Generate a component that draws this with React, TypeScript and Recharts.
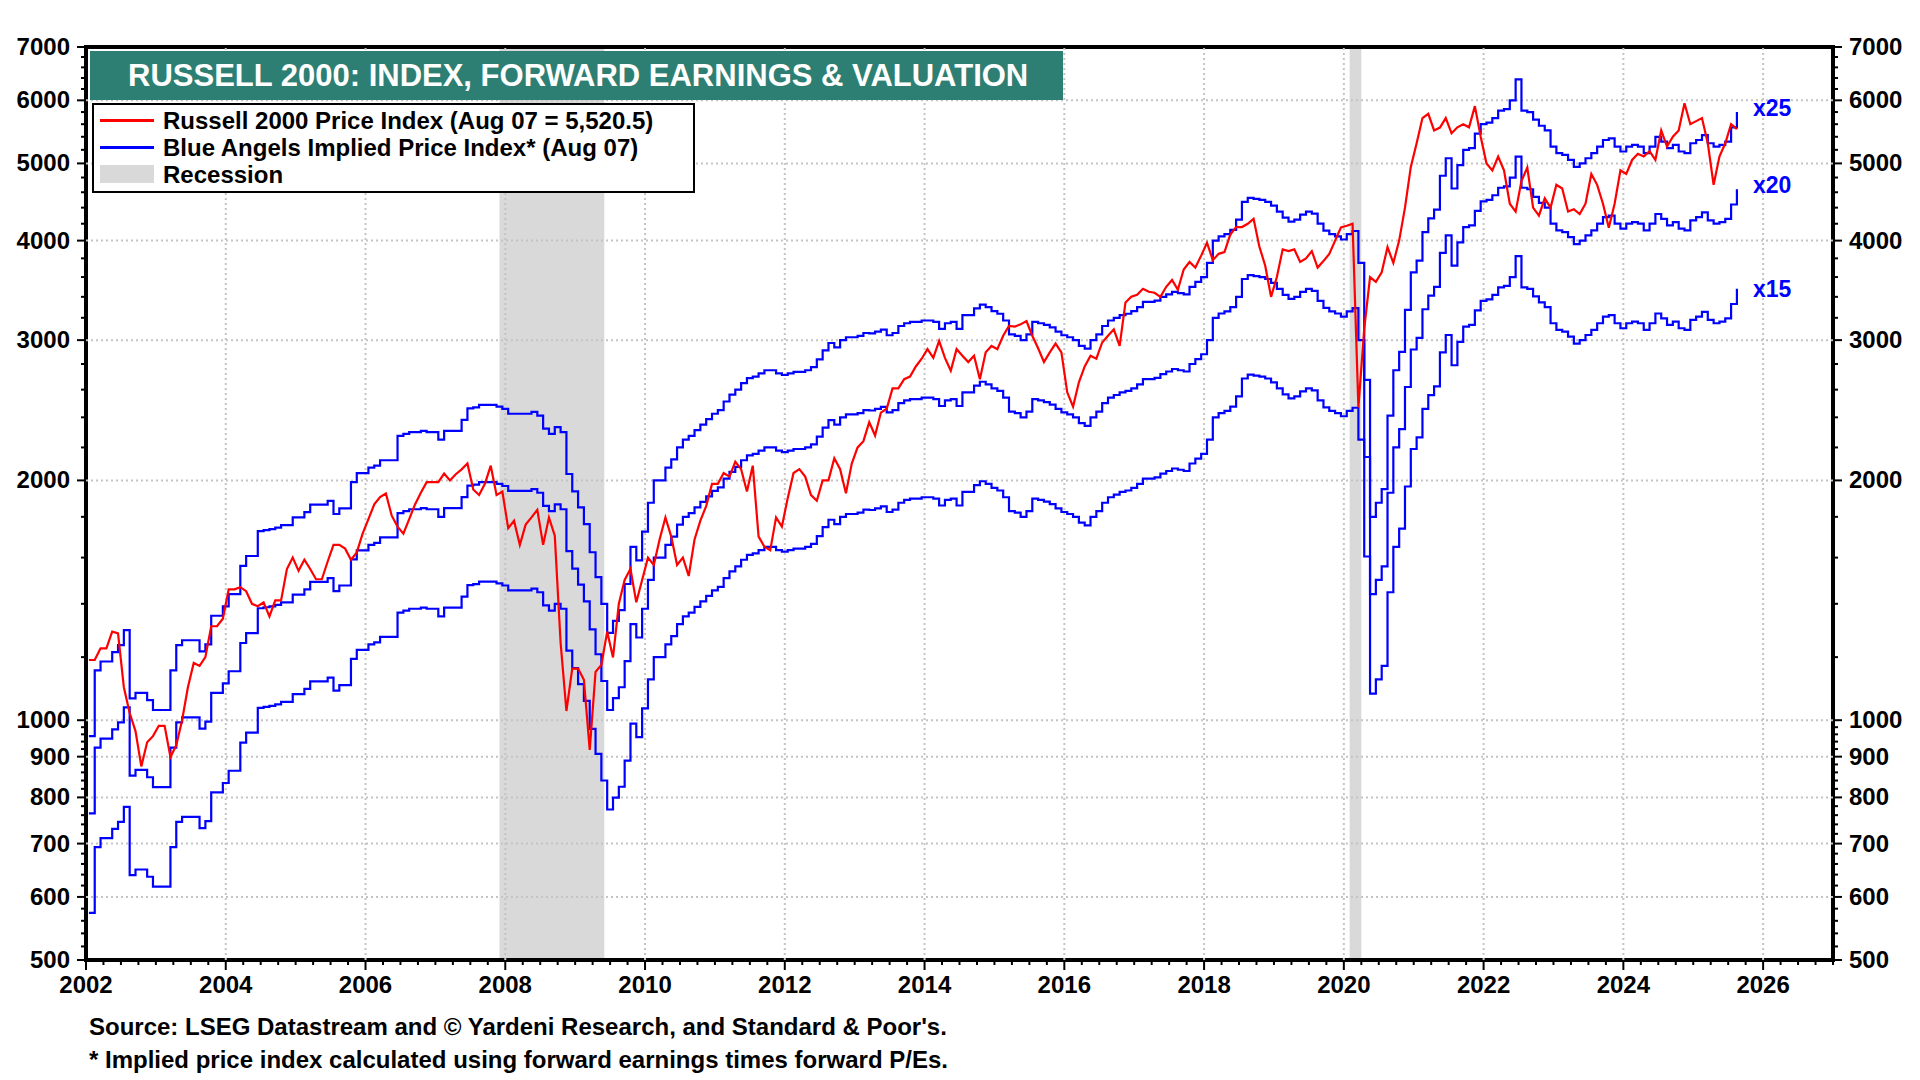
import React from "react";
import {
  LineChart,
  Line,
  XAxis,
  YAxis,
  ReferenceArea,
  ReferenceLine,
  ReferenceDot,
} from "recharts";

// monthly readings, Jan 2002 .. Aug 2025 (mid-month)
const START_YEAR = 2002;

const russell = [
  1190, 1190, 1231, 1231, 1292, 1285, 1100, 1021, 969, 875, 938, 955,
  984, 984, 899, 930, 1000, 1100, 1180, 1170, 1200, 1312, 1312, 1341,
  1460, 1460, 1469, 1452, 1400, 1390, 1406, 1350, 1414, 1414, 1548, 1600,
  1540, 1590, 1548, 1503, 1503, 1582, 1660, 1660, 1642, 1590, 1624, 1715,
  1788, 1866, 1906, 1926, 1806, 1750, 1715, 1788, 1866, 1930, 1990, 1990,
  1990, 2040, 2000, 2036, 2065, 2100, 1948, 1917, 1980, 2087, 1917, 1937,
  1742, 1780, 1660, 1760, 1797, 1837, 1660, 1797, 1705, 1251, 1027, 1161,
  1161, 1124, 918, 1150, 1173, 1292, 1199, 1400, 1500, 1549, 1406, 1500,
  1600, 1566, 1686, 1797, 1700, 1566, 1600, 1517, 1686, 1780, 1857, 1980,
  1980, 2043, 2022, 2111, 2066, 1937, 2087, 1700, 1651, 1634, 1797, 1750,
  1900, 2043, 2066, 2022, 1917, 1886, 2000, 2000, 2132, 2066, 1927, 2100,
  2200, 2240, 2367, 2277, 2433, 2460, 2609, 2609, 2680, 2700, 2780, 2843,
  2923, 2850, 2994, 2850, 2746, 2923, 2868, 2816, 2868, 2680, 2896, 2950,
  2923, 3038, 3126, 3120, 3140, 3170, 3038, 2930, 2816, 2896, 2970, 2896,
  2580, 2475, 2656, 2780, 2868, 2843, 2980, 3038, 3095, 2950, 3345, 3400,
  3420, 3480, 3450, 3440, 3400, 3500, 3570, 3470, 3680, 3760, 3700, 3830,
  3975, 3780, 3850, 3870, 4070, 4160, 4160, 4200, 4260, 3930, 3720, 3400,
  3600, 3900, 3880, 3900, 3760, 3800, 3880, 3700, 3770, 3850, 4000, 4155,
  4175, 4200, 2470, 3100, 3600, 3550, 3650, 3925, 3750, 4000, 4400, 4950,
  5300, 5700, 5770, 5500, 5545, 5700, 5455, 5550, 5600, 5550, 5900, 5400,
  5000, 4900, 5100, 4900, 4450, 4350, 4750, 4940, 4400, 4300, 4520, 4400,
  4700, 4650, 4350, 4380, 4320, 4450, 4850, 4700, 4450, 4150, 4450, 4900,
  4850, 5050, 5140, 5100, 5180, 5050, 5500, 5250, 5400, 5500, 5950, 5600,
  5650, 5700, 5300, 4700, 5100, 5300, 5600, 5520,
];

// forward earnings per share behind the implied price lines
const earnings = [
  38.2, 46.2, 47.4, 47.4, 48.7, 49.7, 51.9, 42.6, 43.3, 43.3, 42.4, 41.2,
  41.2, 41.2, 46.2, 49.7, 50.4, 50.4, 50.4, 48.8, 49.8, 54.1, 54.1, 55.6,
  57.6, 57.6, 62.5, 64.3, 64.3, 69.1, 69.3, 69.5, 69.8, 70.3, 70.3, 71.9,
  71.9, 73.0, 74.6, 74.6, 74.6, 75.4, 72.6, 73.8, 73.8, 79.6, 81.7, 81.7,
  83.0, 83.5, 84.8, 84.8, 84.8, 91.0, 91.5, 92.0, 92.0, 92.3, 92.0, 92.0,
  90.0, 92.3, 92.3, 92.3, 95.3, 98.5, 98.8, 99.5, 99.5, 99.5, 99.0, 98.4,
  97.0, 97.0, 97.0, 97.0, 97.5, 96.5, 92.9, 91.5, 93.3, 92.0, 81.5, 77.5,
  74.0, 70.5, 65.0, 60.5, 56.0, 51.5, 53.3, 55.0, 59.3, 66.0, 63.5, 69.0,
  75.0, 80.0, 80.0, 83.0, 85.0, 88.0, 90.0, 91.0, 92.5, 94.0, 95.5, 97.0,
  98.0, 100.5, 102.5, 104.0, 106.0, 107.5, 108.0, 109.0, 110.0, 110.0, 109.0, 108.5,
  109.0, 109.5, 109.5, 110.0, 111.0, 113.5, 116.5, 119.0, 117.5, 120.0, 121.0, 121.0,
  121.5, 122.5, 122.4, 123.0, 123.7, 121.7, 122.5, 125.0, 126.0, 126.5, 126.5, 127.0,
  127.0, 126.5, 124.0, 126.0, 126.5, 124.0, 129.0, 129.0, 131.5, 133.0, 132.0, 130.5,
  129.5, 127.0, 122.0, 121.5, 120.0, 122.0, 126.5, 126.0, 125.4, 124.5, 123.0, 121.7,
  121.0, 120.0, 118.0, 117.1, 120.0, 122.0, 125.0, 127.0, 128.0, 129.0, 129.5, 130.5,
  132.0, 134.0, 134.0, 134.5, 136.0, 137.0, 138.0, 137.5, 137.0, 140.0, 142.0, 144.0,
  150.0, 160.0, 162.0, 163.0, 165.0, 170.0, 179.0, 181.0, 180.5, 180.0, 179.0, 177.0,
  174.0, 171.0, 169.0, 170.0, 172.5, 174.0, 173.0, 168.0, 164.7, 163.0, 162.0, 160.5,
  163.0, 164.5, 150.0, 107.0, 72.0, 75.0, 78.0, 96.5, 110.0, 116.0, 131.0, 146.0,
  151.0, 164.0, 170.6, 175.0, 193.0, 203.0, 186.0, 199.0, 208.0, 209.0, 218.0, 224.0,
  225.0, 228.0, 233.0, 234.0, 240.0, 255.0, 233.0, 232.0, 227.0, 223.0, 220.0, 210.0,
  206.0, 205.0, 202.0, 198.0, 200.0, 203.0, 206.0, 210.0, 214.0, 215.0, 210.0, 207.0,
  210.0, 211.0, 210.0, 206.0, 210.0, 216.0, 213.0, 209.0, 211.0, 207.0, 206.0, 212.0,
  214.0, 217.0, 212.0, 210.0, 211.0, 213.0, 222.0, 232.0,
];

const multiples = [15, 20, 25];
const yTicks = [500, 600, 700, 800, 900, 1000, 2000, 3000, 4000, 5000, 6000, 7000];
const xLabelYears = [2002, 2004, 2006, 2008, 2010, 2012, 2014, 2016, 2018, 2020, 2022, 2024, 2026];
const recessions = [
  [2007.917, 2009.417],
  [2020.083, 2020.25],
];

const RED = "#ff0000";
const BLUE = "#0000ff";
const GRID = "#c4c4c4";
const FONT = "'Liberation Sans', Arial, sans-serif";

const months = russell.map((_, i) => START_YEAR + (i + 0.5) / 12);
const data = months.map((t, i) => {
  const row: Record<string, number> = { t, russell: russell[i] };
  multiples.forEach((m) => (row["x" + m] = earnings[i] * m));
  return row;
});
const last = data[data.length - 1];

// minor ticks: 4 between each pair of labelled ticks
const yMinor: number[] = [];
for (let i = 0; i < yTicks.length - 1; i++) {
  const step = (yTicks[i + 1] - yTicks[i]) / 5;
  for (let k = 1; k < 5; k++) yMinor.push(yTicks[i] + k * step);
}
const yAll = [...yTicks, ...yMinor].sort((a, b) => a - b);
const xAll: number[] = [];
for (let q = 0; q <= 100; q++) xAll.push(2002 + q / 4);

const isMajorY = (v: number) => yTicks.includes(v);
const isMajorX = (v: number) => Math.abs(v - Math.round(v)) < 1e-6 && Math.round(v) % 2 === 0;

const LeftTick = (props: any) => {
  const { x, y, payload } = props;
  const major = isMajorY(payload.value);
  return (
    <g>
      <line x1={x - (major ? 9 : 5)} x2={x} y1={y} y2={y} stroke="#000" strokeWidth={2} />
      {major && (
        <text x={x - 16} y={y} dy={8} textAnchor="end" fontSize={24} fontWeight="bold" fontFamily={FONT} fill="#000">
          {payload.value}
        </text>
      )}
    </g>
  );
};

const RightTick = (props: any) => {
  const { x, y, payload } = props;
  const major = isMajorY(payload.value);
  return (
    <g>
      <line x1={x} x2={x + (major ? 9 : 5)} y1={y} y2={y} stroke="#000" strokeWidth={2} />
      {major && (
        <text x={x + 16} y={y} dy={8} textAnchor="start" fontSize={24} fontWeight="bold" fontFamily={FONT} fill="#000">
          {payload.value}
        </text>
      )}
    </g>
  );
};

const BottomTick = (props: any) => {
  const { x, y, payload } = props;
  const major = isMajorX(payload.value);
  return (
    <g>
      <line x1={x} x2={x} y1={y} y2={y + (major ? 10 : 5)} stroke="#000" strokeWidth={2} />
      {major && (
        <text x={x} y={y + 33} textAnchor="middle" fontSize={24} fontWeight="bold" fontFamily={FONT} fill="#000">
          {Math.round(payload.value)}
        </text>
      )}
    </g>
  );
};

export default function App() {
  return (
    <div style={{ position: "absolute", left: 0, top: 0, width: 1920, height: 1080, background: "#fff", fontFamily: FONT }}>
      <LineChart width={1920} height={1080} data={data} margin={{ top: 47, right: 0, bottom: 0, left: 0 }}>
        <XAxis
          dataKey="t"
          type="number"
          domain={[2002, 2027]}
          ticks={xAll}
          interval={0}
          tickSize={0}
          tickMargin={0}
          axisLine={false}
          tick={<BottomTick />}
          height={120}
          allowDataOverflow
        />
        <YAxis
          yAxisId="left"
          scale="log"
          domain={[500, 7000]}
          ticks={yAll}
          interval={0}
          tickSize={0}
          tickMargin={0}
          axisLine={false}
          tick={<LeftTick />}
          width={86}
          allowDataOverflow
        />
        <YAxis
          yAxisId="right"
          orientation="right"
          scale="log"
          domain={[500, 7000]}
          ticks={yAll}
          interval={0}
          tickSize={0}
          tickMargin={0}
          axisLine={false}
          tick={<RightTick />}
          width={87}
          allowDataOverflow
        />

        {recessions.map(([a, b]) => (
          <ReferenceArea key={a} yAxisId="left" x1={a} x2={b} y1={500} y2={7000} fill="#d9d9d9" fillOpacity={1} stroke="none" />
        ))}
        {xLabelYears.slice(1).map((yr) => (
          <ReferenceLine key={"gx" + yr} yAxisId="left" x={yr} stroke={GRID} strokeWidth={2} strokeDasharray="2 3" />
        ))}
        {yTicks.slice(1, -1).map((v) => (
          <ReferenceLine key={"gy" + v} yAxisId="left" y={v} stroke={GRID} strokeWidth={2} strokeDasharray="2 3" />
        ))}

        <Line yAxisId="left" dataKey="x15" type="stepAfter" stroke={BLUE} strokeWidth={2.2} dot={false} isAnimationActive={false} />
        <Line yAxisId="left" dataKey="x20" type="stepAfter" stroke={BLUE} strokeWidth={2.2} dot={false} isAnimationActive={false} />
        <Line yAxisId="left" dataKey="x25" type="stepAfter" stroke={BLUE} strokeWidth={2.2} dot={false} isAnimationActive={false} />
        <Line yAxisId="left" dataKey="russell" type="linear" stroke={RED} strokeWidth={2.2} dot={false} isAnimationActive={false} />

        {multiples.map((m) => (
          <ReferenceDot
            key={"lbl" + m}
            yAxisId="left"
            x={last.t}
            y={last["x" + m]}
            r={0}
            fill="none"
            stroke="none"
            label={{ value: "x" + m, position: "right", offset: 16, dy: m === 15 ? 0 : -4, fill: BLUE, fontSize: 23, fontWeight: "bold", fontFamily: FONT }}
          />
        ))}

        <ReferenceArea yAxisId="left" x1={2002} x2={2027} y1={500} y2={7000} fill="none" stroke="#000" strokeWidth={4} />
      </LineChart>

      <div
        style={{
          position: "absolute",
          left: 90,
          top: 51,
          width: 973,
          height: 49,
          background: "#2e7f73",
          color: "#fff",
          fontSize: 31,
          fontWeight: "bold",
          lineHeight: "49px",
          paddingLeft: 38,
          boxSizing: "border-box",
          whiteSpace: "nowrap",
        }}
      >
        RUSSELL 2000: INDEX, FORWARD EARNINGS &amp; VALUATION
      </div>

      <div
        style={{
          position: "absolute",
          left: 92,
          top: 103,
          width: 603,
          height: 90,
          background: "#fff",
          border: "2px solid #000",
          boxSizing: "border-box",
          fontSize: 24,
          fontWeight: "bold",
          color: "#000",
        }}
      >
        <div style={{ position: "absolute", left: 6, top: 14, width: 54, height: 2.5, background: RED }} />
        <div style={{ position: "absolute", left: 69, top: 2, lineHeight: "28px", whiteSpace: "nowrap" }}>
          Russell 2000 Price Index (Aug 07 = 5,520.5)
        </div>
        <div style={{ position: "absolute", left: 6, top: 41, width: 54, height: 2.5, background: BLUE }} />
        <div style={{ position: "absolute", left: 69, top: 29, lineHeight: "28px", whiteSpace: "nowrap" }}>
          Blue Angels Implied Price Index* (Aug 07)
        </div>
        <div style={{ position: "absolute", left: 6, top: 60, width: 54, height: 18, background: "#d9d9d9" }} />
        <div style={{ position: "absolute", left: 69, top: 56, lineHeight: "28px", whiteSpace: "nowrap" }}>Recession</div>
      </div>

      <div style={{ position: "absolute", left: 89, top: 1013, fontSize: 24, fontWeight: "bold", whiteSpace: "nowrap", lineHeight: "28px" }}>
        Source: LSEG Datastream and © Yardeni Research, and Standard &amp; Poor's.
      </div>
      <div style={{ position: "absolute", left: 89, top: 1046, fontSize: 24, fontWeight: "bold", whiteSpace: "nowrap", lineHeight: "28px" }}>
        * Implied price index calculated using forward earnings times forward P/Es.
      </div>
    </div>
  );
}
